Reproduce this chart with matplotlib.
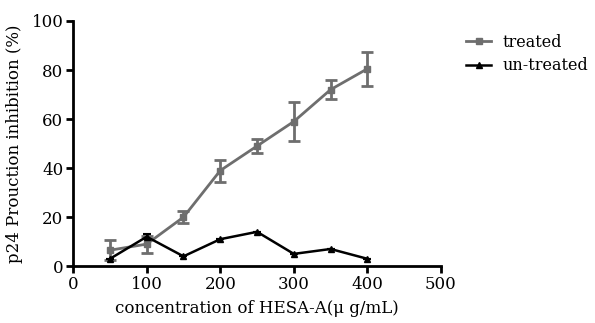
import matplotlib
matplotlib.use("Agg")
import matplotlib.pyplot as plt
from matplotlib.lines import Line2D

conc = [50, 100, 150, 200, 250, 300, 350, 400]
treated = [6.5, 9, 20, 39, 49, 59, 72, 80.5]
treated_err = [4, 3.5, 2.5, 4.5, 3, 8, 4, 7]
untreated = [3, 12, 4, 11, 14, 5, 7, 3]
untreated_err = [0, 1, 0, 0, 0, 0, 0, 0]

plt.rcParams['font.family'] = ['DejaVu Serif']

fig = plt.figure(figsize=(5.95, 3.23), dpi=100)
ax = fig.add_axes([0.123, 0.176, 0.618, 0.759])

grey = '#6e6e6e'
ax.errorbar(conc, treated, yerr=treated_err, color=grey, marker='s', markersize=5,
            lw=2, elinewidth=2, capsize=4, capthick=2)
ax.errorbar(conc, untreated, yerr=untreated_err, color='black', marker='^', markersize=4.5,
            lw=1.8, elinewidth=1.5, capsize=3, capthick=1.5)

ax.set_xlim(0, 500)
ax.set_ylim(0, 100)
ax.set_xticks([0, 100, 200, 300, 400, 500])
ax.set_yticks([0, 20, 40, 60, 80, 100])
for s in ['top', 'right']:
    ax.spines[s].set_visible(False)
for s in ['left', 'bottom']:
    ax.spines[s].set_linewidth(2)
ax.tick_params(width=2, length=5, labelsize=12, pad=2)

ax.set_xlabel('concentration of HESA-A(\u03bc g/mL)', fontsize=12, labelpad=5)
ax.set_ylabel('p24 Prouction inhibition (%)', fontsize=12, labelpad=6)

handles = [Line2D([], [], color=grey, marker='s', markersize=5, lw=2),
           Line2D([], [], color='black', marker='^', markersize=4.5, lw=1.8)]
fig.legend(handles, ['treated', 'un-treated'], loc='upper left', bbox_to_anchor=(0.783, 0.895),
           borderaxespad=0, borderpad=0, frameon=False, fontsize=11.5,
           handlelength=1.6, handletextpad=0.7, labelspacing=0.4)

fig.savefig('out.png', dpi=100)
